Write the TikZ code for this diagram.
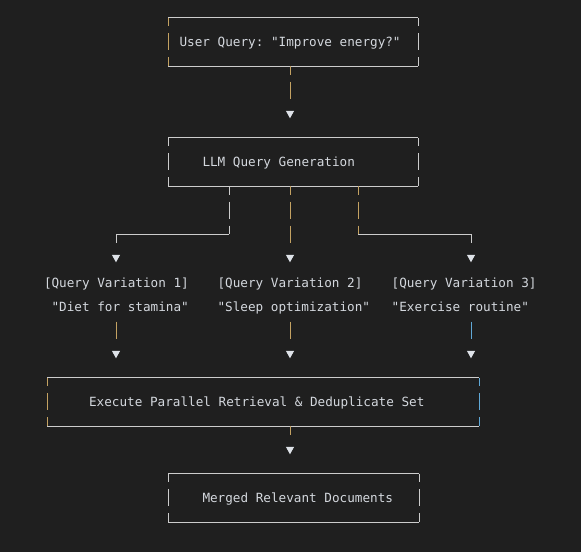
\documentclass[tikz,border=0pt]{standalone}
\usepackage{fontspec}
\setmonofont{DejaVu Sans Mono}
\usetikzlibrary{arrows.meta,calc}

\definecolor{bgcol}{RGB}{31,31,31}
\definecolor{rulecol}{RGB}{204,204,204}
\definecolor{goldbar}{RGB}{196,162,98}
\definecolor{bluebar}{RGB}{96,168,214}
\definecolor{inkcol}{RGB}{212,216,222}
\definecolor{tipcol}{RGB}{222,226,232}

\tikzset{
    panel/.style 2 args={anchor=west, minimum height=48pt, inner sep=0pt, text height=10.5pt, text depth=1.5pt,
        text=inkcol, font=\ttfamily\fontsize{12.66}{24}\selectfont,
        execute at begin node={\hbox to #1\bgroup\hskip #2\relax},
        execute at end node={\hfil\egroup}},
    variant/.style={anchor=west, inner sep=0pt, align=left, text=inkcol,
        font=\ttfamily\fontsize{12.66}{24}\selectfont},
    hline/.style={draw=rulecol, line width=1pt},
    sidebar/.style={line width=1pt, dash pattern=on 8.5pt off 7pt on 17pt off 7pt on 8.5pt off 20pt},
    conn/.style={line width=1pt, -{Triangle[width=8pt,length=7.5pt,color=tipcol]}}
}

\begin{document}
\begin{tikzpicture}[x=1pt,y=-1pt]
    \fill[bgcol] (0,0) rectangle (581,552);
    \useasboundingbox (0,0) rectangle (581,552);

    % columns
    \coordinate (c1) at (116,0);
    \coordinate (c2) at (290,0);
    \coordinate (c3) at (471,0);
    \coordinate (s1) at (229,0);
    \coordinate (s3) at (358,0);

    % Boxes
    \node[panel={250pt}{11.4pt}] (query) at (168,42) {User Query: "Improve energy?"};
    \node[panel={250pt}{34.3pt}] (gen) at (168,162) {LLM Query Generation};
    \node[panel={432pt}{41.9pt}] (exec) at (47,402) {Execute Parallel Retrieval \& Deduplicate Set};
    \node[panel={251pt}{34.3pt}] (merged) at (168,498) {Merged Relevant Documents};

    % Variations
    \node[variant] (v1) at (43.8,294.7) {\strut[Query Variation 1]\\\strut\phantom{"}"Diet for stamina"};
    \node[variant] (v2) at (217.4,294.7) {\strut[Query Variation 2]\\\strut"Sleep optimization"};
    \node[variant] (v3) at (391.5,294.7) {\strut[Query Variation 3]\\\strut"Exercise routine"};

    % Frames
    \draw[hline] (query.north west) -- (query.north east) (query.south west) -- (query.south east);
    \draw[sidebar, goldbar] (query.north west) -- (query.south west);
    \draw[sidebar, rulecol] (query.north east) -- (query.south east);

    \draw[hline] (gen.north west) -- (gen.north east) (gen.south west) -- (gen.south east);
    \draw[sidebar, rulecol] (gen.north west) -- (gen.south west);
    \draw[sidebar, rulecol] (gen.north east) -- (gen.south east);

    \draw[hline] (exec.north west) -- (exec.north east) (exec.south west) -- (exec.south east);
    \draw[sidebar, goldbar] (exec.north west) -- (exec.south west);
    \draw[sidebar, bluebar] (exec.north east) -- (exec.south east);

    \draw[hline] (merged.north west) -- (merged.north east) (merged.south west) -- (merged.south east);
    \draw[sidebar, rulecol] (merged.north west) -- (merged.south west);
    \draw[sidebar, rulecol] (merged.north east) -- (merged.south east);

    % Query -> Generation
    \draw[conn, goldbar, shorten >=19.5pt, dash pattern=on 8.5pt off 7pt on 17pt off 30pt]
        (query.south -| c2) -- (gen.north -| c2);

    % Generation -> Variations
    \draw[sidebar, rulecol] (gen.south -| s1) -- ++(0,48);
    \draw[conn, rulecol, shorten >=8.2pt, dash pattern=on 121.5pt off 40pt]
        (gen.south -| s1) ++(0,48) -| (v1.north -| c1);
    \draw[conn, goldbar, shorten >=8.2pt, dash pattern=on 8.5pt off 7pt on 17pt off 7pt on 17pt off 30pt]
        (gen.south -| c2) -- (v2.north -| c2);
    \draw[sidebar, goldbar] (gen.south -| s3) -- ++(0,48);
    \draw[conn, rulecol, shorten >=8.2pt, dash pattern=on 121.5pt off 40pt]
        (gen.south -| s3) ++(0,48) -| (v3.north -| c3);

    % Variations -> Retrieval
    \draw[conn, goldbar, shorten <=2.8pt, shorten >=19.5pt, dash pattern=on 17pt off 30pt]
        (v1.south -| c1) -- (exec.north -| c1);
    \draw[conn, goldbar, shorten <=2.8pt, shorten >=19.5pt, dash pattern=on 17pt off 30pt]
        (v2.south -| c2) -- (exec.north -| c2);
    \draw[conn, bluebar, shorten <=2.8pt, shorten >=19.5pt, dash pattern=on 17pt off 30pt]
        (v3.south -| c3) -- (exec.north -| c3);

    % Retrieval -> Merged
    \draw[conn, goldbar, shorten >=19.5pt, dash pattern=on 8.5pt off 30pt]
        (exec.south -| c2) -- (merged.north -| c2);
\end{tikzpicture}
\end{document}
